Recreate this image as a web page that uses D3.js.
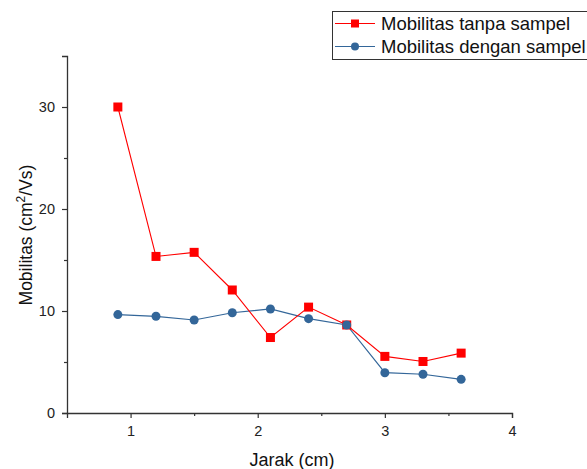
<!DOCTYPE html>
<html><head><meta charset="utf-8">
<script src="https://cdn.jsdelivr.net/npm/d3@7"></script>
<style>body{margin:0;background:#fff}svg{display:block}text{font-family:Arial,"Liberation Sans",sans-serif}</style>
</head><body><svg id="c" width="587" height="469"></svg>
<script>
const jarak = [0.9, 1.2, 1.5, 1.8, 2.1, 2.4, 2.7, 3.0, 3.3, 3.6];
const tanpaSampel = [30.0, 15.35, 15.75, 12.06, 7.4, 10.38, 8.63, 5.55, 5.05, 5.87];
const denganSampel = [9.65, 9.48, 9.12, 9.83, 10.2, 9.25, 8.63, 3.95, 3.8, 3.3];
const xTicks = [1, 2, 3, 4];
const yTicks = [0, 10, 20, 30];
const seriesNames = ["Mobilitas tanpa sampel", "Mobilitas dengan sampel"];

const svg = d3.select("#c");
const x = d3.scaleLinear().domain([0.5, 4]).range([67, 512]);
const y = d3.scaleLinear().domain([0, 35]).range([413, 56]);
const axisColor = "#333";

// x axis
const gx = svg.append("g").attr("transform", "translate(0,413)");
gx.call(d3.axisBottom(x).tickValues(xTicks).tickSize(5).tickPadding(8).tickFormat(d3.format("d")));
gx.append("g").call(d3.axisBottom(x).tickValues([1.5, 2.5, 3.5]).tickSize(3).tickFormat(""));
gx.selectAll(".domain").attr("stroke", axisColor).attr("stroke-width", 1.3);
gx.selectAll(".tick line").attr("stroke", axisColor).attr("stroke-width", 1.2);
gx.selectAll("text").attr("font-size", 14.5).attr("fill", "#222");
gx.selectAll("g > g .domain").remove();

// y axis
const gy = svg.append("g").attr("transform", "translate(67,0)");
gy.call(d3.axisLeft(y).tickValues(yTicks).tickSize(5).tickPadding(7).tickFormat(d3.format("d")));
gy.append("g").call(d3.axisLeft(y).tickValues([5, 15, 25]).tickSize(3).tickFormat(""));
gy.selectAll(".domain").attr("stroke", axisColor).attr("stroke-width", 1.3);
gy.selectAll(".tick line").attr("stroke", axisColor).attr("stroke-width", 1.2);
gy.selectAll("text").attr("font-size", 14.5).attr("fill", "#222");
gy.selectAll("g > g .domain").remove();

// axis titles
svg.append("text").attr("x", 292).attr("y", 466).attr("text-anchor", "middle")
  .attr("font-size", 18).attr("fill", "#111").text("Jarak (cm)");
const yt = svg.append("text").attr("transform", "translate(32,235) rotate(-90)")
  .attr("text-anchor", "middle").attr("font-size", 17.5).attr("fill", "#111");
yt.append("tspan").text("Mobilitas (cm");
yt.append("tspan").attr("font-size", 12).attr("dy", -7).text("2");
yt.append("tspan").attr("dy", 7).text("/Vs)");

const red = "#ff0000", blue = "#336699";
const line = d3.line().x((d, i) => x(jarak[i])).y(d => y(d));

svg.append("path").datum(denganSampel).attr("d", line).attr("fill", "none").attr("stroke", blue).attr("stroke-width", 1.2);
svg.append("path").datum(tanpaSampel).attr("d", line).attr("fill", "none").attr("stroke", red).attr("stroke-width", 1.1);

svg.selectAll(".rsq").data(tanpaSampel).enter().append("rect")
  .attr("x", (d, i) => x(jarak[i]) - 4.5).attr("y", d => y(d) - 4.5)
  .attr("width", 9).attr("height", 9).attr("fill", red);
svg.selectAll(".bci").data(denganSampel).enter().append("circle")
  .attr("cx", (d, i) => x(jarak[i])).attr("cy", d => y(d)).attr("r", 4.5).attr("fill", blue);

// legend
svg.append("rect").attr("x", 332.5).attr("y", 11.5).attr("width", 260).attr("height", 48)
  .attr("fill", "#fff").attr("stroke", "#333").attr("stroke-width", 1);
const lg = svg.append("g");
[[red, 23.5, "sq"], [blue, 46.5, "ci"]].forEach((s, i) => {
  lg.append("line").attr("x1", 335).attr("x2", 375).attr("y1", s[1]).attr("y2", s[1]).attr("stroke", s[0]).attr("stroke-width", 1.2);
  if (s[2] === "sq") lg.append("rect").attr("x", 351).attr("y", s[1] - 4).attr("width", 8).attr("height", 8).attr("fill", s[0]);
  else lg.append("circle").attr("cx", 355).attr("cy", s[1]).attr("r", 4).attr("fill", s[0]);
  lg.append("text").attr("x", 381).attr("y", s[1] + 6.5).attr("font-size", 18.5).attr("fill", "#111").text(seriesNames[i]);
});
</script></body></html>
